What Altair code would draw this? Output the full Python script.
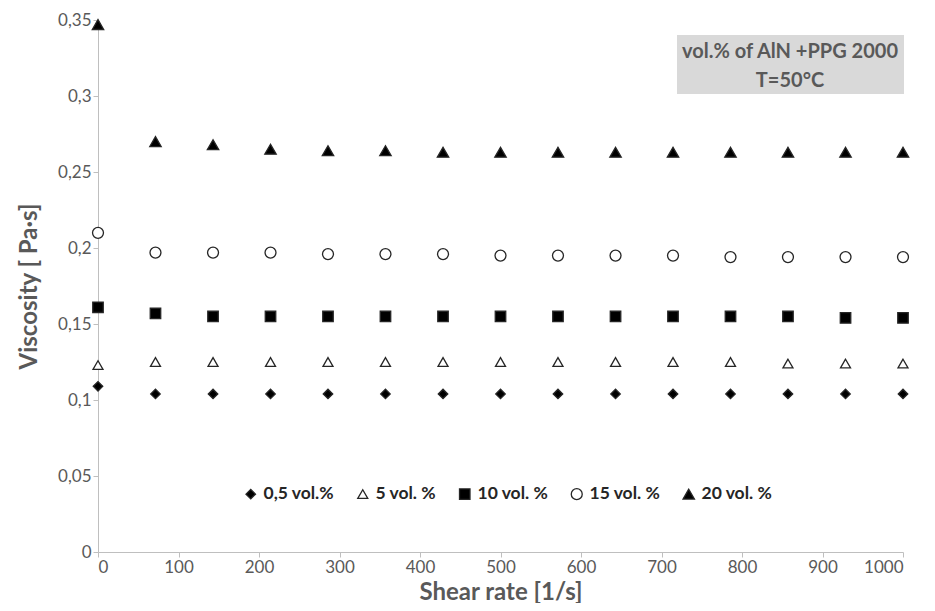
import altair as alt
import pandas as pd

shear_rate = [0, 71.4, 142.9, 214.3, 285.7, 357.1, 428.6, 500, 571.4, 642.9, 714.3, 785.7, 857.1, 928.6, 1000]
series = ["0,5 vol.%", "5 vol. %", "10 vol. %", "15 vol. %", "20 vol. %"]
visc_05 = [0.109, 0.104, 0.104, 0.104, 0.104, 0.104, 0.104, 0.104, 0.104, 0.104, 0.104, 0.104, 0.104, 0.104, 0.104]
visc_5 = [0.123, 0.125, 0.125, 0.125, 0.125, 0.125, 0.125, 0.125, 0.125, 0.125, 0.125, 0.125, 0.124, 0.124, 0.124]
visc_10 = [0.161, 0.157, 0.155, 0.155, 0.155, 0.155, 0.155, 0.155, 0.155, 0.155, 0.155, 0.155, 0.155, 0.154, 0.154]
visc_15 = [0.210, 0.197, 0.197, 0.197, 0.196, 0.196, 0.196, 0.195, 0.195, 0.195, 0.195, 0.194, 0.194, 0.194, 0.194]
visc_20 = [0.347, 0.270, 0.268, 0.265, 0.264, 0.264, 0.263, 0.263, 0.263, 0.263, 0.263, 0.263, 0.263, 0.263, 0.263]
y_ticks = [0, 0.05, 0.1, 0.15, 0.2, 0.25, 0.3, 0.35]
x_ticks = [0, 100, 200, 300, 400, 500, 600, 700, 800, 900, 1000]
note_text = "vol.% of AlN +PPG 2000\nT=50°C"

shapes = ["diamond", "triangle-up", "square", "circle", "triangle-up"]
fills = ["#000000", "#ffffff", "#000000", "#ffffff", "#000000"]
sizes = [90, 130, 125, 130, 150]

rows = []
for name, vals in zip(series, [visc_05, visc_5, visc_10, visc_15, visc_20]):
    for x, v in zip(shear_rate, vals):
        rows.append({"series": name, "rate": x, "visc": v})
df = pd.DataFrame(rows)

W, H = 805, 532
FONT = "Lato"
LEG = dict(orient="none", legendX=144, legendY=465, direction="horizontal", columns=5, title=None)

points = alt.Chart(df).mark_point(filled=True, stroke="#262626", strokeWidth=1.3, opacity=1).encode(
    x=alt.X("rate:Q", scale=alt.Scale(domain=[0, 1000], nice=False),
            axis=alt.Axis(values=x_ticks, title="Shear rate [1/s]", format="d")),
    y=alt.Y("visc:Q", scale=alt.Scale(domain=[0, 0.35], nice=False),
            axis=alt.Axis(values=y_ticks, title="Viscosity [ Pa·s]",
                          labelExpr="replace(format(datum.value, '.2~f'), '.', ',')")),
    shape=alt.Shape("series:N", scale=alt.Scale(domain=series, range=shapes),
                    legend=alt.Legend(labelFont=FONT, labelFontWeight="bold",
                                      labelFontSize=17.5, labelColor="#262626", columnPadding=19,
                                      symbolStrokeColor="#262626", symbolStrokeWidth=1.3,
                                      labelOffset=4, **LEG)),
    fill=alt.Fill("series:N", scale=alt.Scale(domain=series, range=fills), legend=alt.Legend(**LEG)),
    size=alt.Size("series:N", scale=alt.Scale(domain=series, range=sizes), legend=alt.Legend(**LEG)),
)

box = alt.Chart(pd.DataFrame({"k": [0]})).mark_rect(color="#d9d9d9").encode(
    x=alt.value(579), x2=alt.value(806), y=alt.value(15), y2=alt.value(74)
)

note = alt.Chart(pd.DataFrame({"t": [note_text]})).mark_text(
    font=FONT, fontWeight="bold", fontSize=20, color="#595959", lineBreak="\n", lineHeight=29,
    align="center", baseline="middle").encode(
    x=alt.value(692), y=alt.value(32), text="t:N")

chart = alt.layer(box, note, points).properties(
    width=W, height=H,
    autosize=alt.AutoSizeParams(type="none"),
    padding={"left": 90, "top": 12, "right": 24, "bottom": 51},
).configure_view(stroke=None).configure_axis(
    grid=False, domainColor="#bfbfbf", tickColor="#bfbfbf", tickSize=5,
    labelFont=FONT, labelFontSize=17, labelColor="#595959",
    titleFont=FONT, titleFontSize=24, titleFontWeight="bold", titleColor="#595959",
).configure_axisY(labelPadding=2, titlePadding=16).configure_axisX(labelPadding=2, titlePadding=5)

chart.save("out.html", embed_options={"renderer": "svg", "actions": False})
